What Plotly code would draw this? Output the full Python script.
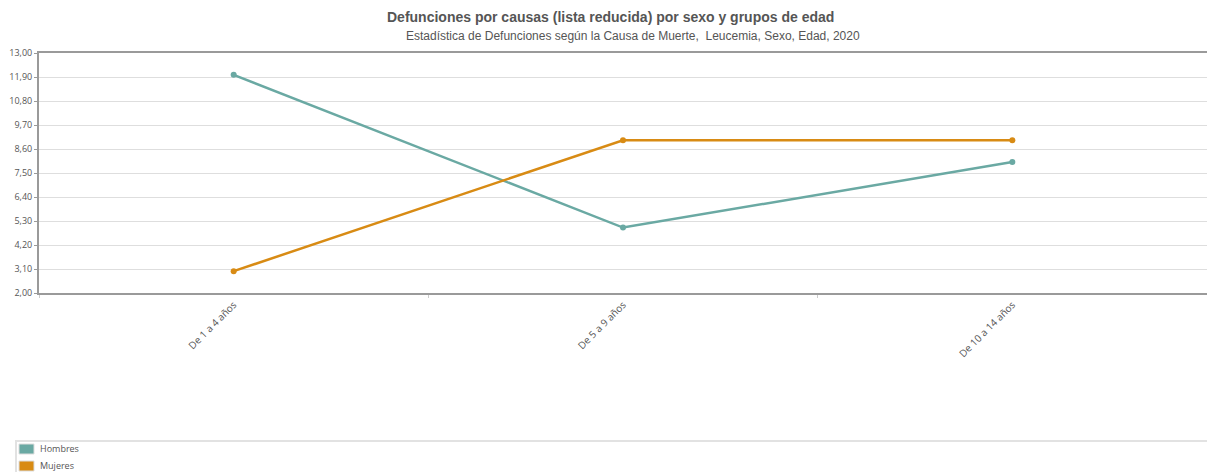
import plotly.graph_objects as go

categories = ["De 1 a 4 años", "De 5 a 9 años", "De 10 a 14 años"]
hombres = [12.0, 5.0, 8.0]
mujeres = [3.0, 9.0, 9.0]
series_names = ["Hombres", "Mujeres"]
series_colors = ["#6aa9a3", "#d88b14"]
y_tick_vals = [2.0, 3.1, 4.2, 5.3, 6.4, 7.5, 8.6, 9.7, 10.8, 11.9, 13.0]
y_tick_text = ["2,00", "3,10", "4,20", "5,30", "6,40", "7,50", "8,60", "9,70", "10,80", "11,90", "13,00"]

W, H = 1207, 472
L, R, T, B = 39, 0, 53, 179
plot_w = W - L - R
plot_h = H - T - B


def px(x):
    return (x - L) / plot_w


def py(y):
    return (H - B - y) / plot_h


fig = go.Figure()
for name, vals, col in zip(series_names, [hombres, mujeres], series_colors):
    fig.add_trace(go.Scatter(
        x=categories, y=vals, name=name, mode="lines+markers",
        line=dict(color=col, width=2.5),
        marker=dict(color=col, size=6),
        showlegend=False,
    ))

fig.update_layout(
    width=W, height=H,
    margin=dict(l=L, r=R, t=T, b=B, pad=0),
    paper_bgcolor="white", plot_bgcolor="white",
    font=dict(family="Liberation Sans, Arial", color="#555555"),
    xaxis=dict(
        type="category", range=[-0.5, 2.5],
        showgrid=False, showline=True, mirror=True,
        linecolor="#9a9a9a", linewidth=2,
        tickson="boundaries", ticks="outside", ticklen=3, tickcolor="#cccccc",
        tickangle=-45, tickfont=dict(family="Open Sans, DejaVu Sans", size=10, color="#555555"),
        zeroline=False,
    ),
    yaxis=dict(
        range=[2.0, 13.0], tickvals=y_tick_vals, ticktext=y_tick_text,
        showgrid=True, gridcolor="#dedede", gridwidth=1,
        showline=True, linecolor="#9a9a9a", linewidth=2,
        ticks="outside", ticklen=3, tickcolor="#9a9a9a",
        tickfont=dict(family="Open Sans, DejaVu Sans", size=9, color="#555555"),
        zeroline=False,
    ),
)

# Title and subtitle
fig.add_annotation(text="<b>Defunciones por causas (lista reducida) por sexo y grupos de edad</b>",
                   xref="paper", yref="paper", x=px(610), y=py(17), xanchor="center", yanchor="middle",
                   showarrow=False, font=dict(family="Liberation Sans, Arial", size=14, color="#555555"))
fig.add_annotation(text="Estadística de Defunciones según la Causa de Muerte,  Leucemia, Sexo, Edad, 2020",
                   xref="paper", yref="paper", x=px(633), y=py(36), xanchor="center", yanchor="middle",
                   showarrow=False, font=dict(family="Liberation Sans, Arial", size=12, color="#555555"))

# Legend box at the bottom
fig.add_shape(type="rect", xref="paper", yref="paper",
              x0=px(16), x1=px(1212), y0=py(441), y1=py(480),
              line=dict(color="#e2e2e2", width=2), fillcolor="rgba(0,0,0,0)", layer="below")
for i, (name, col) in enumerate(zip(series_names, series_colors)):
    yc = 449 + i * 17
    fig.add_shape(type="rect", xref="paper", yref="paper",
                  x0=px(19), x1=px(34), y0=py(yc - 5), y1=py(yc + 5),
                  line=dict(color="#dddddd", width=1), fillcolor=col)
    fig.add_annotation(text=name, xref="paper", yref="paper", x=px(38), y=py(yc - 1),
                       xanchor="left", yanchor="middle", showarrow=False,
                       font=dict(family="Open Sans, DejaVu Sans", size=9, color="#555555"))

fig.write_html("out.html")
